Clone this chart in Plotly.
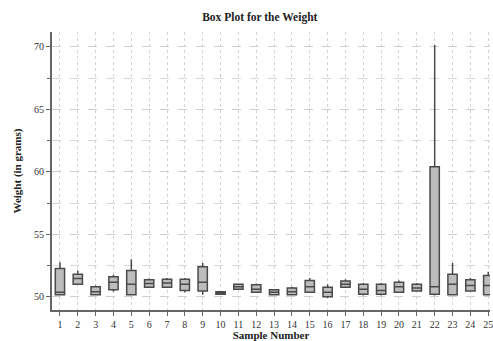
import plotly.graph_objects as go

# Weight summary per sample (grams)
samples = list(range(1, 26))
q1 = [50.15, 51.0, 50.15, 50.55, 50.15, 50.75, 50.75, 50.5, 50.45, 50.2,
      50.6, 50.35, 50.15, 50.15, 50.35, 50.0, 50.75, 50.2, 50.2, 50.35,
      50.45, 50.2, 50.15, 50.45, 50.15]
median = [50.35, 51.45, 50.4, 51.15, 51.0, 51.05, 51.1, 51.0, 51.15, 50.3,
          50.8, 50.6, 50.35, 50.4, 50.8, 50.35, 51.0, 50.6, 50.5, 50.8,
          50.7, 50.8, 51.0, 50.9, 50.9]
q3 = [52.25, 51.8, 50.8, 51.6, 52.1, 51.35, 51.4, 51.4, 52.4, 50.4,
      51.0, 50.95, 50.55, 50.7, 51.3, 50.75, 51.25, 51.0, 51.0, 51.15,
      51.0, 60.4, 51.8, 51.35, 51.7]
low = [50.1, 50.95, 50.1, 50.4, 50.1, 50.7, 50.7, 50.35, 50.15, 50.15,
       50.55, 50.3, 50.1, 50.1, 50.3, 49.9, 50.7, 50.1, 50.1, 50.3,
       50.4, 50.1, 50.1, 50.4, 50.1]
high = [52.75, 52.1, 50.9, 51.75, 53.0, 51.45, 51.5, 51.5, 52.7, 50.45,
        51.05, 51.05, 50.6, 50.8, 51.5, 51.0, 51.4, 51.1, 51.1, 51.3,
        51.1, 70.15, 52.7, 51.5, 52.0]

serif = "Liberation Serif"

fig = go.Figure(go.Box(
    x=samples, q1=q1, median=median, q3=q3,
    lowerfence=low, upperfence=high,
    fillcolor="#bdbdbd",
    line=dict(color="#4a4a4a", width=1.5),
    whiskerwidth=0, width=0.52, boxpoints=False,
    hoverinfo="skip", showlegend=False,
))

fig.update_layout(
    width=493, height=341,
    margin=dict(l=52, r=0, t=32, b=31),
    paper_bgcolor="white", plot_bgcolor="white",
    title=dict(text="<b>Box Plot for the Weight</b>", x=0.527, xanchor="center",
               y=0.95, yanchor="middle",
               font=dict(family=serif, size=11.5, color="#222")),
    font=dict(family=serif, size=10, color="#333"),
)

fig.update_xaxes(
    range=[0.555, 25.1], tickmode="array", tickvals=samples,
    ticktext=[str(s) for s in samples],
    ticklabeloverflow="allow",
    showline=True, linecolor="#666", linewidth=2,
    ticks="outside", ticklen=4, tickcolor="#666",
    showgrid=True, gridcolor="#d4d4d4", griddash="dot", gridwidth=1,
    zeroline=False,
    tickfont=dict(family=serif, size=10, color="#333"),
    title=dict(text="<b>Sample Number</b>", standoff=2,
               font=dict(family=serif, size=11, color="#222")),
)

fig.update_yaxes(
    range=[48.93, 71.2], tickmode="linear", tick0=50, dtick=5,
    showline=True, linecolor="#666", linewidth=2,
    ticks="outside", ticklen=4, tickcolor="#666",
    showgrid=True, gridcolor="#cfcfcf", griddash="dash", gridwidth=1,
    zeroline=False,
    minor=dict(tick0=50, dtick=2.5, ticks="outside", ticklen=3, tickcolor="#666",
               showgrid=True, gridcolor="#d8d8d8", griddash="dash"),
    tickfont=dict(family=serif, size=10, color="#333"),
    title=dict(text="<b>Weight (in grams)</b>", standoff=10,
               font=dict(family=serif, size=11, color="#222")),
)

fig.write_html("out.html")
